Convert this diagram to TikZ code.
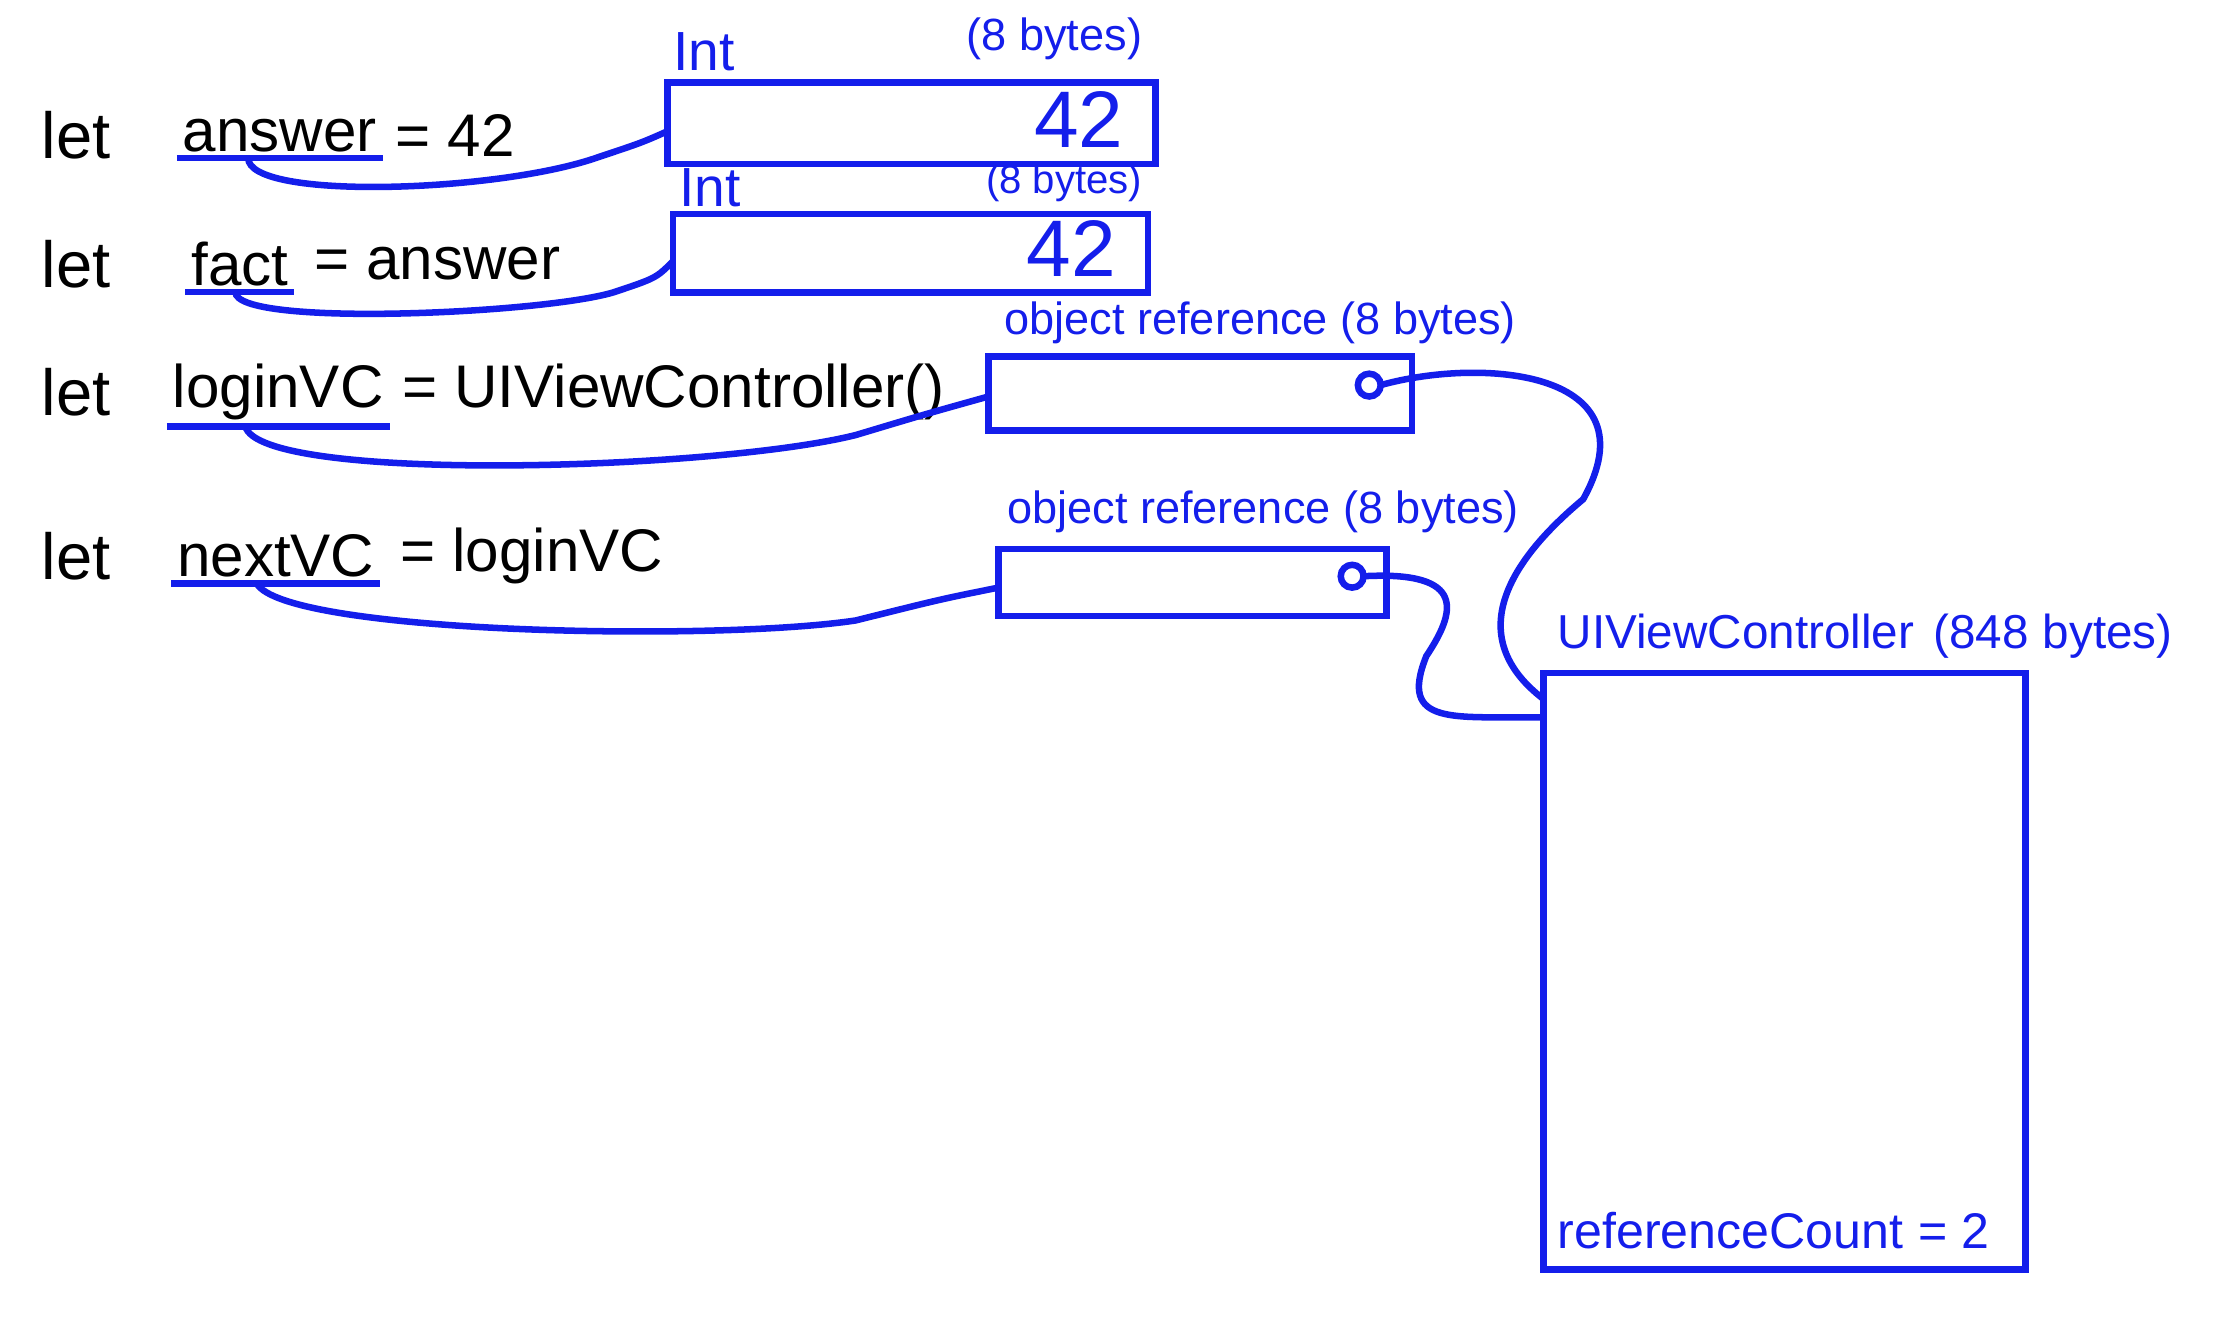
\documentclass[tikz,border=0pt]{standalone}
\usepackage{fontspec}
\setmainfont{Liberation Sans}
\usetikzlibrary{positioning}
\definecolor{pen}{RGB}{20,30,235}
\tikzset{
  code/.style={anchor=west, inner sep=1pt, font={\fontsize{12pt}{13}\selectfont}},
  label/.style={text=pen, inner sep=1pt, font={\fontsize{9pt}{10}\selectfont}},
  big/.style={text=pen, anchor=east, font={\fontsize{16pt}{16}\selectfont}},
  cell/.style={draw=pen, line width=1.3pt},
  wire/.style={draw=pen, line width=1.3pt}
}
\begin{document}
\begin{tikzpicture}[x=1cm,y=-1cm]
  \useasboundingbox (0,0) rectangle (15.6,9.24);

  % source lines
  \node[code, font={\fontsize{13pt}{14}\selectfont}] (let1) at (0.25,0.95) {let};
  \node[code] (answer) at (1.24,0.95) {answer};
  \node[code, right=0.05cm of answer] {= 42};
  \node[code, font={\fontsize{13pt}{14}\selectfont}] (let2) at (0.25,1.85) {let};
  \node[code] (fact) at (1.3,1.85) {fact};
  \node[code, right=0.1cm of fact] {= answer};
  \node[code, font={\fontsize{13pt}{14}\selectfont}] (let3) at (0.25,2.75) {let};
  \node[code] (login) at (1.17,2.75) {loginVC};
  \node[code, right=0.05cm of login] {= UIViewController()};
  \node[code, font={\fontsize{13pt}{14}\selectfont}] (let4) at (0.25,3.9) {let};
  \node[code] (next) at (1.2,3.9) {nextVC};
  \node[code, right=0.1cm of next] {= loginVC};

  \draw[wire] (answer.south west) -- (answer.south east);
  \draw[wire] (fact.south west) -- (fact.south east);
  \draw[wire] (login.south west) -- (login.south east);
  \draw[wire] (next.south west) -- (next.south east);

  % memory cells
  \draw[cell] (4.68,0.58) rectangle (8.1,1.15);
  \node[label, anchor=south west, font={\fontsize{11pt}{12}\selectfont}] at (4.68,0.54) {Int};
  \node[label, anchor=south east] at (8.05,0.46) {(8 bytes)};
  \node[big] (v1) at (8.0,0.84) {42};

  \draw[cell] (4.72,1.5) rectangle (8.05,2.05);
  \node[label, anchor=south west, font={\fontsize{11pt}{12}\selectfont}] at (4.72,1.49) {Int};
  \node[label, anchor=south east, font={\fontsize{8pt}{9}\selectfont}] at (8.05,1.46) {(8 bytes)};
  \node[big] (v2) at (7.95,1.74) {42};

  \draw[cell] (6.93,2.5) rectangle (9.9,3.02);
  \node[label, anchor=south west] at (7.0,2.45) {object reference (8 bytes)};
  \draw[wire] (9.6,2.7) circle (0.08);
  \coordinate (p1) at (9.68,2.7);

  \draw[cell] (7.0,3.85) rectangle (9.72,4.32);
  \node[label, anchor=south west] at (7.02,3.78) {object reference (8 bytes)};
  \draw[wire] (9.48,4.04) circle (0.08);
  \coordinate (p2) at (9.56,4.04);

  % object
  \draw[cell] (10.82,4.72) rectangle (14.2,8.9);
  \node[label, anchor=south west, font={\fontsize{9.5pt}{11}\selectfont}] (obj) at (10.88,4.66) {UIViewController\hspace{0.4em}(848\hspace{0.3em}bytes)};
  \node[label, anchor=south west, font={\fontsize{10pt}{11}\selectfont}] (rc) at (10.88,8.8) {referenceCount\hspace{0.3em}= 2};

  % connectors
  \draw[wire] ([xshift=0.5cm]answer.south west) .. controls +(0,0.3) and (3.5,1.35) .. (4.2,1.1) .. controls (4.5,1.0) .. (4.68,0.92);
  \draw[wire] ([xshift=0.35cm]fact.south west) .. controls +(0,0.25) and (3.8,2.2) .. (4.3,2.05) .. controls (4.6,1.95) .. (4.72,1.83);
  \draw[wire] ([xshift=0.55cm]login.south west) .. controls +(0.1,0.4) and (5.0,3.3) .. (6.0,3.05) .. controls (6.5,2.9) .. (6.93,2.78);
  \draw[wire] ([xshift=0.6cm]next.south west) .. controls +(0.2,0.35) and (5.0,4.5) .. (6.0,4.35) .. controls (6.6,4.2) .. (7.0,4.12);
  \draw[wire] (p1) .. controls (10.4,2.5) and (11.6,2.6) .. (11.1,3.5) .. controls (10.5,4.0) and (10.3,4.5) .. (10.82,4.9);
  \draw[wire] (p2) .. controls (10.3,4.0) and (10.2,4.3) .. (10.0,4.6) .. controls (9.8,5.1) and (10.2,5.02) .. (10.82,5.03);
\end{tikzpicture}
\end{document}
